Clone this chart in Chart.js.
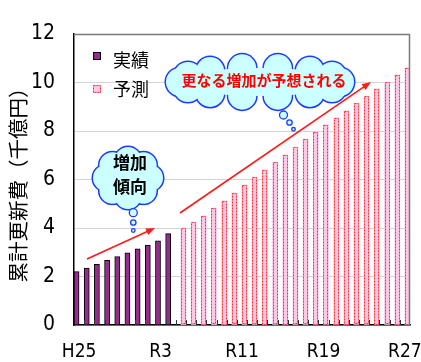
<!DOCTYPE html>
<html>
<head>
<meta charset="utf-8">
<script src="https://cdn.jsdelivr.net/npm/chart.js@4.4.0/dist/chart.umd.min.js"></script>
<style>
  html, body { margin: 0; padding: 0; background: #fff; }
  #wrap { width: 421px; height: 362px; }
</style>
</head>
<body>
<div id="wrap"><canvas id="chart" width="421" height="362"></canvas></div>
<script>
// 年度（H25〜R27）
const YEARS = [
  "H25", "H26", "H27", "H28", "H29", "H30", "R1", "R2", "R3", "R4",
  "R5", "R6", "R7", "R8", "R9", "R10", "R11", "R12", "R13", "R14",
  "R15", "R16", "R17", "R18", "R19", "R20", "R21", "R22", "R23", "R24",
  "R25", "R26", "R27"
];
// 軸に表示する年度
const SHOWN_TICKS = ["H25", "R3", "R11", "R19", "R27"];

// 累計更新費（千億円）
const ACTUAL = [2.2, 2.35, 2.5, 2.67, 2.82, 2.98, 3.14, 3.3, 3.47, 3.77];
const FORECAST = [
  4.0, 4.24, 4.5, 4.82, 5.12, 5.44, 5.77, 6.1, 6.4, 6.72, 7.02, 7.34,
  7.67, 7.96, 8.25, 8.54, 8.84, 9.14, 9.43, 9.74, 10.01, 10.32, 10.61
];

const LABEL_ACTUAL = "実績";
const LABEL_FORECAST = "予測";
const Y_TITLE = "累計更新費（千億円）";
const NOTE_BIG = "更なる増加が予想される";
const NOTE_SMALL = ["増加", "傾向"];

const PURPLE = "#962d8c";
const PINK = "#fcc8e6";
const NUM_FONT = "'Liberation Sans Narrow', 'DejaVu Sans Condensed', sans-serif";
const JP_FONT = "'Noto Sans CJK JP', sans-serif";

const actualData = YEARS.map((y, i) => i < ACTUAL.length ? ACTUAL[i] : null);
const forecastData = YEARS.map((y, i) => i >= ACTUAL.length ? FORECAST[i - ACTUAL.length] : null);

// 雲（吹き出し）
function drawCloud(ctx, cx, cy, rx, ry, r, n, bubbles) {
  const circles = [];
  for (let k = 0; k < n; k++) {
    const a = (k / n) * Math.PI * 2;
    circles.push([cx + rx * Math.cos(a), cy + ry * Math.sin(a), r]);
  }
  ctx.save();
  ctx.strokeStyle = "#1a3cff";
  ctx.lineWidth = 3;
  circles.forEach(([x, y, rr]) => { ctx.beginPath(); ctx.arc(x, y, rr, 0, Math.PI * 2); ctx.stroke(); });
  ctx.fillStyle = "#ccffff";
  circles.forEach(([x, y, rr]) => { ctx.beginPath(); ctx.arc(x, y, rr, 0, Math.PI * 2); ctx.fill(); });
  ctx.beginPath();
  ctx.ellipse(cx, cy, rx, ry, 0, 0, Math.PI * 2);
  ctx.fill();
  ctx.lineWidth = 1.3;
  bubbles.forEach(([x, y, rr]) => {
    ctx.beginPath(); ctx.arc(x, y, rr, 0, Math.PI * 2);
    ctx.fillStyle = "#ccffff"; ctx.fill(); ctx.stroke();
  });
  ctx.restore();
}

function drawArrow(ctx, x1, y1, x2, y2) {
  const a = Math.atan2(y2 - y1, x2 - x1);
  ctx.save();
  ctx.strokeStyle = "#ff1a1a";
  ctx.fillStyle = "#ff1a1a";
  ctx.lineWidth = 1.6;
  ctx.beginPath();
  ctx.moveTo(x1, y1);
  ctx.lineTo(x2 - 6 * Math.cos(a), y2 - 6 * Math.sin(a));
  ctx.stroke();
  ctx.beginPath();
  ctx.moveTo(x2, y2);
  ctx.lineTo(x2 - 9 * Math.cos(a) + 3.5 * Math.sin(a), y2 - 9 * Math.sin(a) - 3.5 * Math.cos(a));
  ctx.lineTo(x2 - 9 * Math.cos(a) - 3.5 * Math.sin(a), y2 - 9 * Math.sin(a) + 3.5 * Math.cos(a));
  ctx.closePath();
  ctx.fill();
  ctx.restore();
}

const decorations = {
  id: "decorations",
  afterDatasetsDraw(chart) {
    const { ctx, chartArea: area, scales } = chart;

    // 予測の棒は赤の破線で囲む
    ctx.save();
    ctx.strokeStyle = "#ff3030";
    ctx.lineWidth = 1;
    ctx.setLineDash([2, 1]);
    chart.getDatasetMeta(1).data.forEach((bar, i) => {
      if (forecastData[i] == null) return;
      const w = bar.width;
      ctx.strokeRect(Math.round(bar.x - w / 2) + 0.5, Math.round(bar.y) + 0.5,
        Math.round(w) - 1, Math.round(bar.base - bar.y) - 1);
    });
    ctx.restore();

    // 枠線（上・右）と x 軸の目盛り
    ctx.save();
    ctx.strokeStyle = "#7a7a7a";
    ctx.lineWidth = 1.5;
    ctx.beginPath();
    ctx.moveTo(area.left, area.top + 0.5);
    ctx.lineTo(area.right - 0.5, area.top + 0.5);
    ctx.lineTo(area.right - 0.5, area.bottom);
    ctx.stroke();
    ctx.strokeStyle = "#333";
    ctx.lineWidth = 1;
    const x = scales.x;
    const step = x.getPixelForValue(1) - x.getPixelForValue(0);
    ctx.beginPath();
    for (let i = 1; i < YEARS.length; i++) {
      const px = Math.round(x.getPixelForValue(i) - step / 2) + 0.5;
      ctx.moveTo(px, area.bottom);
      ctx.lineTo(px, area.bottom - 5);
    }
    ctx.stroke();
    ctx.restore();

    // 縦軸タイトル
    ctx.save();
    ctx.translate(18, (area.top + area.bottom) / 2 + 0.5);
    ctx.rotate(-Math.PI / 2);
    ctx.fillStyle = "#000";
    ctx.font = "20.5px " + JP_FONT;
    ctx.textAlign = "center";
    ctx.textBaseline = "middle";
    ctx.fillText(Y_TITLE, 0, 0);
    ctx.restore();

    // 凡例
    ctx.save();
    ctx.fillStyle = PURPLE;
    ctx.fillRect(93, 52, 8, 8);
    ctx.strokeStyle = "#000";
    ctx.lineWidth = 1;
    ctx.strokeRect(93.5, 52.5, 7, 7);
    ctx.fillStyle = PINK;
    ctx.fillRect(93, 85, 8, 8);
    ctx.strokeStyle = "#ff3030";
    ctx.setLineDash([2, 1]);
    ctx.strokeRect(93.5, 85.5, 7, 7);
    ctx.setLineDash([]);
    ctx.fillStyle = "#000";
    ctx.font = "18px " + JP_FONT;
    ctx.textBaseline = "middle";
    ctx.fillText(LABEL_ACTUAL, 113, 60);
    ctx.fillText(LABEL_FORECAST, 113, 89);
    ctx.restore();

    // 矢印
    drawArrow(ctx, 87, 259, 155, 228);
    drawArrow(ctx, 180, 213, 371, 82);

    // 吹き出し
    drawCloud(ctx, 260, 82, 80, 14, 14, 14,
      [[283.5, 115, 4], [289.5, 122.5, 2.7], [293.5, 129.3, 1.8]]);
    drawCloud(ctx, 128, 178, 22, 18, 13, 8,
      [[133.3, 212.7, 4], [133.3, 222.5, 2.7], [133.3, 230.5, 1.8]]);

    ctx.save();
    ctx.textAlign = "center";
    ctx.textBaseline = "middle";
    ctx.font = "bold 15px " + JP_FONT;
    ctx.fillStyle = "#ff0000";
    ctx.fillText(NOTE_BIG, 264, 80);
    ctx.font = "bold 17px " + JP_FONT;
    ctx.fillStyle = "#000";
    ctx.fillText(NOTE_SMALL[0], 130, 163);
    ctx.fillText(NOTE_SMALL[1], 130, 187);
    ctx.restore();
  }
};

new Chart(document.getElementById("chart"), {
  type: "bar",
  data: {
    labels: YEARS,
    datasets: [
      { label: LABEL_ACTUAL, data: actualData, backgroundColor: PURPLE,
        borderColor: "#000", borderWidth: 1 },
      { label: LABEL_FORECAST, data: forecastData, backgroundColor: PINK,
        borderWidth: 0 }
    ]
  },
  options: {
    responsive: false,
    animation: false,
    categoryPercentage: 1,
    barPercentage: 1,
    layout: { padding: { top: 34, right: 11, left: 0, bottom: 0 } },
    plugins: { legend: { display: false }, tooltip: { enabled: false } },
    scales: {
      x: {
        offset: true,
        grid: { display: false },
        border: { color: "#000", width: 1.5 },
        ticks: {
          autoSkip: false,
          maxRotation: 0,
          color: "#000",
          padding: 8,
          font: { family: NUM_FONT, size: 19 },
          callback: (v, i) => SHOWN_TICKS.includes(YEARS[i]) ? YEARS[i] : ""
        },
        afterFit: s => { s.height = 37; s.paddingLeft = 0; s.paddingRight = 0; }
      },
      y: {
        min: 0,
        max: 12,
        border: { color: "#000", width: 1.5 },
        grid: { color: "#d4d4d4", drawTicks: false },
        ticks: {
          stepSize: 2,
          color: "#000",
          padding: 19,
          font: { family: NUM_FONT, size: 21 }
        },
        afterFit: s => { s.width = 74; s.paddingTop = 0; s.paddingBottom = 0; }
      }
    }
  },
  plugins: [decorations]
});
</script>
</body>
</html>
